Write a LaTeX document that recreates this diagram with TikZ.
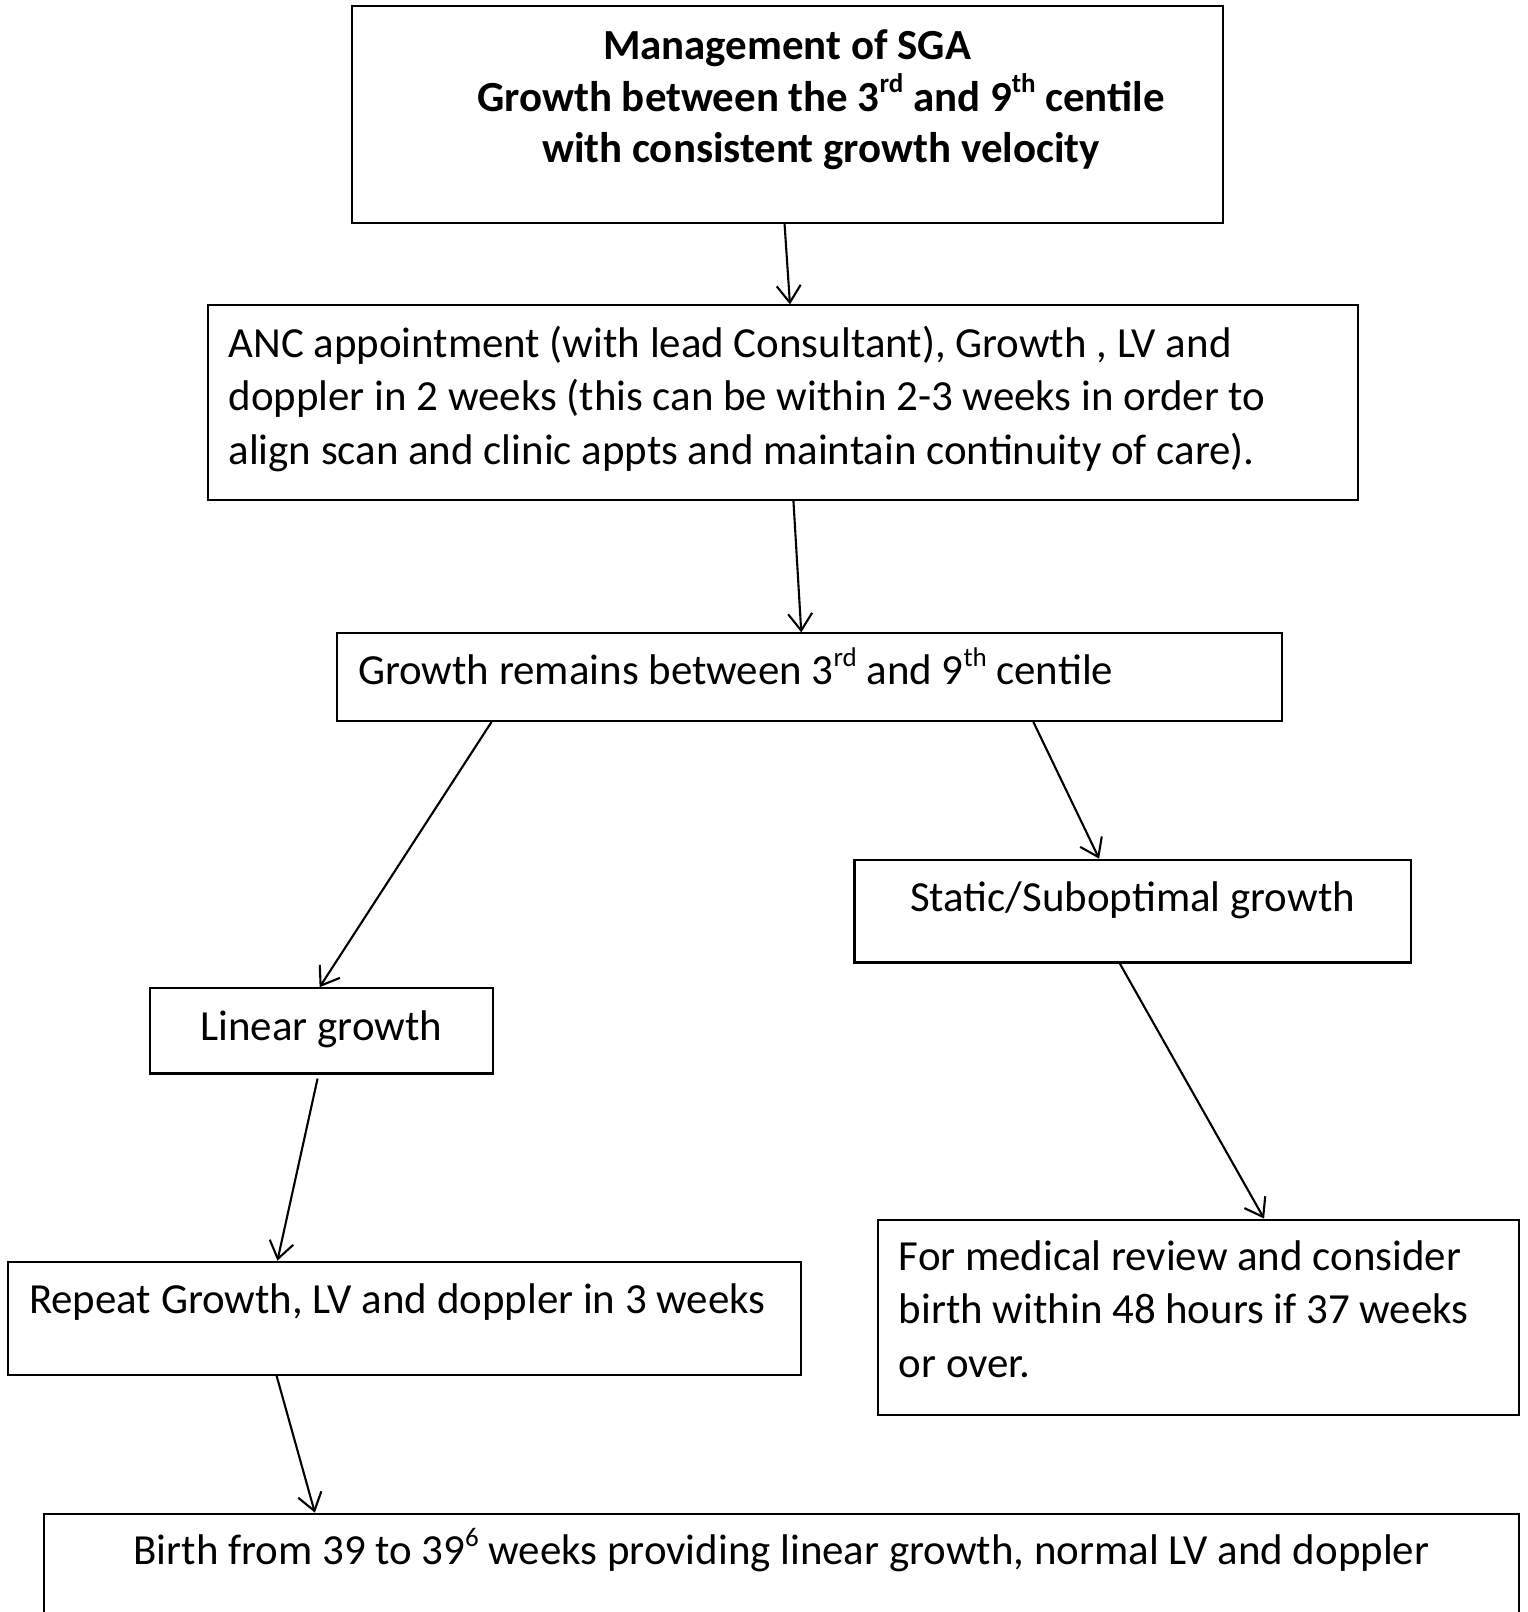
\documentclass[tikz,border=0pt]{standalone}
\usepackage{fontspec}
\setmainfont{Carlito}
\usetikzlibrary{arrows.meta,calc}
\newcommand{\sps}[1]{\raisebox{0.42em}{\fontsize{27}{27}\selectfont #1}}
\begin{document}
\begin{tikzpicture}[x=1pt,y=-1pt,
  box/.style={draw,line width=2.1pt,rectangle,inner sep=0pt,minimum width=#1},
  txt/.style={inner sep=0pt,font=\fontsize{42.9}{53.5}\selectfont},
  ttl/.style={inner sep=0pt,font=\fontsize{42.9}{51.5}\selectfont\bfseries,align=center},
  arr/.style={line width=2.1pt,-{Straight Barb[length=17pt,width=24pt,line width=2.1pt]}}]
\useasboundingbox (0,0) rectangle (1527,1612);
\clip (0,0) rectangle (1527,1612);
% boxes
\node[box=871pt,minimum height=216.9pt] (b1) at (787.2,114.65) {};
\node[box=1150.7pt,minimum height=194.4pt] (b2) at (783.05,402.6) {};
\node[box=945pt,minimum height=87.4pt] (b3) at (809.8,677.1) {};
\node[box=556.3pt,minimum height=102.8pt] (b4) at (1132.65,911.1) {};
\node[box=342.5pt,minimum height=85.3pt] (b5) at (321.35,1030.85) {};
\node[box=792.8pt,minimum height=113.1pt] (b6) at (404.6,1318.25) {};
\node[box=640.6pt,minimum height=195.3pt] (b7) at (1198.5,1317.25) {};
\node[box=1474.6pt,minimum height=200pt] (b8) at (781.5,1613.7) {};
% texts
\node[ttl,anchor=base] (t1) at (821,162.5) {Management of SGA\hspace*{68pt}\\Growth between the 3\sps{rd} and 9\sps{th} centile\\with consistent growth velocity};
\node[txt,anchor=base west,align=left] (t2) at (228.3,464.4) {ANC appointment (with lead Consultant), Growth , LV and\\doppler in 2 weeks (this can be within 2-3 weeks in order to\\align scan and clinic appts and maintain continuity of care).};
\node[txt,anchor=base west] (t3) at (357.8,684.4) {Growth remains between 3\sps{rd} and 9\sps{th} centile};
\node[txt,anchor=base] (t4) at (1132.6,911.7) {Static/Suboptimal growth};
\node[txt,anchor=base] (t5) at (321.4,1040.2) {Linear growth};
\node[txt,anchor=base west] (t6) at (28.8,1313.8) {Repeat Growth, LV and doppler in 3 weeks};
\node[txt,anchor=base west,align=left] (t7) at (898.7,1377) {For medical review and consider\\birth within 48 hours if 37 weeks\\or over.};
\node[txt,anchor=base] (t8) at (781.5,1564.7) {Birth from 39 to 39\sps{6} weeks providing linear growth, normal LV and doppler};
% arrows
\draw[arr] ($(b1.south west)!0.497!(b1.south east)$) -- ($(b2.north west)!0.506!(b2.north east)$);
\draw[arr] ($(b2.south west)!0.509!(b2.south east)$) -- ($(b3.north west)!0.491!(b3.north east)$);
\draw[arr] ($(b3.south west)!0.164!(b3.south east)$) -- ($(b5.north west)!0.495!(b5.north east)$);
\draw[arr] ($(b3.south west)!0.736!(b3.south east)$) -- ($(b4.north west)!0.44!(b4.north east)$);
\draw[arr] ($(b4.south west)!0.477!(b4.south east)$) -- ($(b7.north west)!0.602!(b7.north east)$);
\draw[arr] ($(b5.south west)!0.489!(b5.south east)+(0,4)$) -- ($(b6.north west)!0.34!(b6.north east)$);
\draw[arr] ($(b6.south west)!0.339!(b6.south east)$) -- ($(b8.north west)!0.184!(b8.north east)$);
\end{tikzpicture}
\end{document}
